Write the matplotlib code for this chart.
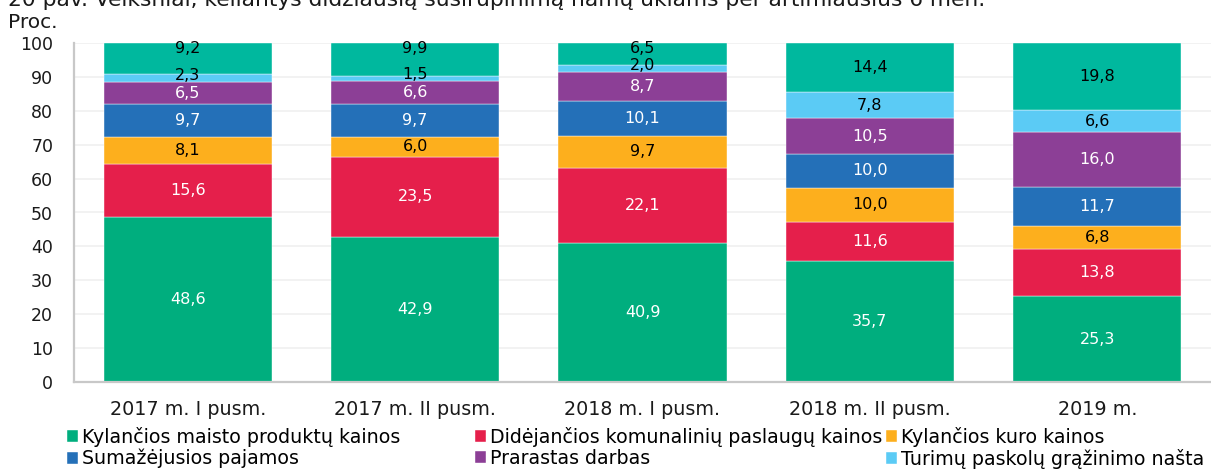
import numpy as np
import matplotlib
matplotlib.use('Agg')
from matplotlib import pyplot as plt

plt.rcParams['font.family'] = ['DejaVu Sans']

categories = ['2017 m. I pusm.', '2017 m. II pusm.', '2018 m. I pusm.', '2018 m. II pusm.', '2019 m.']

maisto = [48.6, 42.9, 40.9, 35.7, 25.3]
komunal = [15.6, 23.5, 22.1, 11.6, 13.8]
kuro = [8.1, 6.0, 9.7, 10.0, 6.8]
pajamos = [9.7, 9.7, 10.1, 10.0, 11.7]
darbas = [6.5, 6.6, 8.7, 10.5, 16.0]
paskolos = [2.3, 1.5, 2.0, 7.8, 6.6]
kita = [9.2, 9.9, 6.5, 14.4, 19.8]

series = [
    ('Kylančios maisto produktų kainos', maisto, '#00AE7E', 'white'),
    ('Didėjančios komunalinių paslaugų kainos', komunal, '#E51F4B', 'white'),
    ('Kylančios kuro kainos', kuro, '#FDAF1D', 'black'),
    ('Sumažėjusios pajamos', pajamos, '#2470B8', 'white'),
    ('Prarastas darbas', darbas, '#8C3F96', 'white'),
    ('Turimų paskolų grąžinimo našta', paskolos, '#5BCBF5', 'black'),
    (None, kita, '#00B89E', 'black'),
]

fig = plt.figure(figsize=(12.11, 4.69), dpi=100)
ax = fig.add_axes([74 / 1211, 87 / 469, 1 - 74 / 1211, 339 / 469])

x = np.arange(len(categories))
bottom = np.zeros(len(categories))
handles = []
segments = []
for name, vals, color, tcolor in series:
    vals = np.array(vals)
    bars = ax.bar(x, vals, 0.74, bottom=bottom, color=color, edgecolor='white', linewidth=0.3, zorder=2)
    if name is not None:
        handles.append((bars, name))
    segments.append((vals, bottom.copy(), tcolor))
    bottom += vals

# data labels; thin segments push their label and the one above apart
for si, (vals, bot, tcolor) in enumerate(segments):
    for i in range(len(categories)):
        v = vals[i]
        y = bot[i] + v / 2
        va = 'center'
        if v < 3:
            y, va = bot[i] - 0.3, 'bottom'
        elif si > 0 and segments[si - 1][0][i] < 3:
            y, va = bot[i] + v + 0.5, 'top'
        ax.text(x[i], y, f'{v:.1f}'.replace('.', ','), ha='center', va=va,
                color=tcolor, fontsize=11.5, zorder=3)

ax.set_xlim(-0.5, len(categories) - 0.5)
ax.set_ylim(0, 100)
ax.set_yticks(np.arange(0, 101, 10))
ax.set_xticks(x)
ax.set_xticklabels(categories)
ax.tick_params(axis='both', length=0, colors='#1a1a1a')
ax.tick_params(axis='x', pad=13, labelsize=13.8)
ax.tick_params(axis='y', pad=15, labelsize=12.5)
ax.grid(axis='y', color='#f0f0f0', linewidth=1.2, zorder=0)
ax.set_axisbelow(True)
for side in ['top', 'right']:
    ax.spines[side].set_visible(False)
for side in ['left', 'bottom']:
    ax.spines[side].set_color('#c8c8c8')
    ax.spines[side].set_linewidth(1.6)

fig.text(8 / 1211, 1 - 6 / 469, '20 pav. Veiksniai, keliantys didžiausią susirūpinimą namų ūkiams per artimiausius 6 mėn.',
         fontsize=15.7, va='baseline', ha='left', color='#1a1a1a')
fig.text(8 / 1211, 1 - 22 / 469, 'Proc.', fontsize=14.5, va='center', ha='left', color='#1a1a1a')

# legend in three columns, placed like the original
cols = [[handles[0], handles[3]], [handles[1], handles[4]], [handles[2], handles[5]]]
col_x = [67, 475, 886]
for cx, col in zip(col_x, cols):
    fig.legend([h for h, _ in col], [n for _, n in col], loc='upper left',
               bbox_to_anchor=(cx / 1211, 1 - 427 / 469), frameon=False,
               fontsize=13.7, handlelength=0.6, handleheight=0.6,
               handletextpad=0.2, labelspacing=0.1, borderpad=0, borderaxespad=0)

fig.savefig('out.png', dpi=100)
